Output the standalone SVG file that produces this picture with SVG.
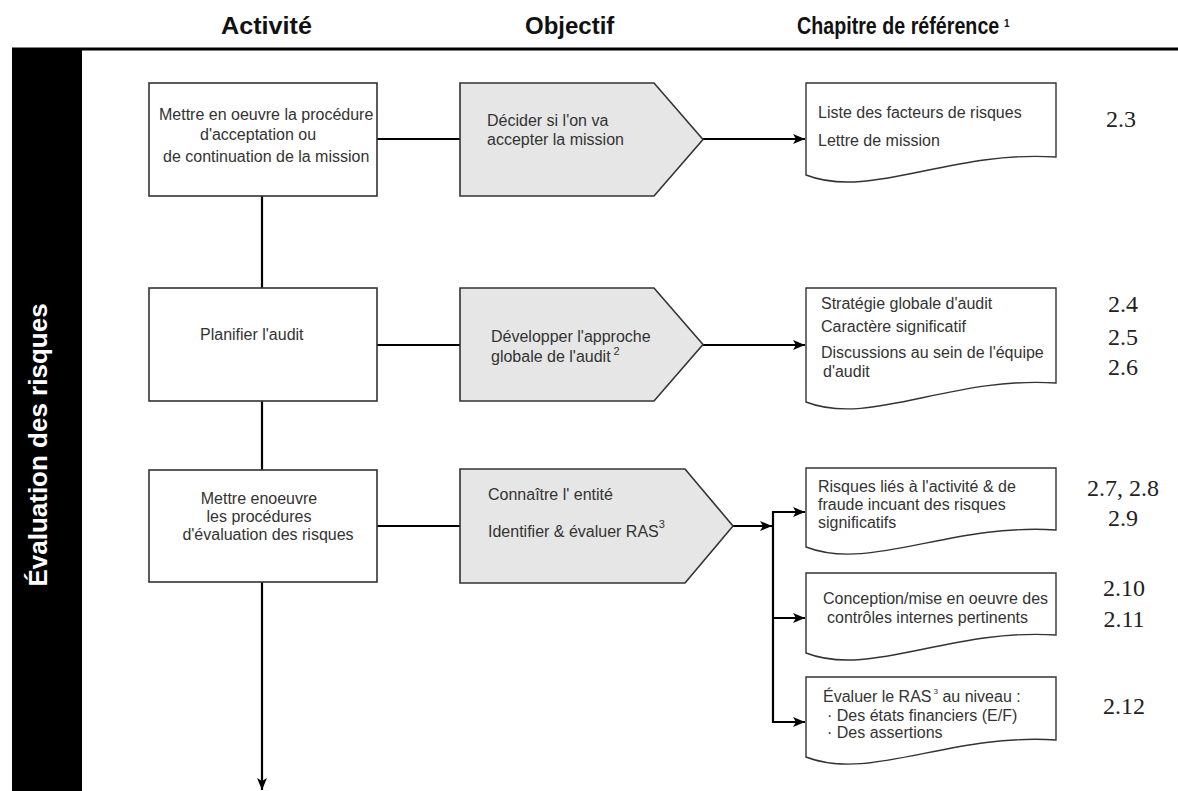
<svg xmlns="http://www.w3.org/2000/svg" width="1178" height="791" viewBox="0 0 1178 791">
<defs>
<style>
.hdr{font-family:"Liberation Sans",Arial,sans-serif;font-weight:bold;font-size:24px;fill:#111}
.t{font-family:"Liberation Sans",Arial,sans-serif;font-size:16px;fill:#333}
.n{font-family:"Liberation Serif","Times New Roman",serif;font-size:24px;fill:#222;text-anchor:middle}
.box{fill:#fff;stroke:#333;stroke-width:1.6}
.pent{fill:#e6e6e6;stroke:#333;stroke-width:1.6}
.doc{fill:#fff;stroke:#333;stroke-width:1.4}
.c{stroke:#000;stroke-width:2.2;fill:none}
.a{stroke:#000;stroke-width:2.2;fill:none;marker-end:url(#ah)}
</style>
<marker id="ah" viewBox="0 0 12 10" refX="12" refY="5" markerWidth="12" markerHeight="10" markerUnits="userSpaceOnUse" orient="auto">
<path d="M0,0 L12,5 L0,10 L3,5 Z" fill="#000"/>
</marker>
</defs>
<rect width="1178" height="791" fill="#fff"/>

<g id="header">
<text class="hdr" transform="translate(221,34) scale(1.05,1)" x="0" y="0">Activité</text>
<text class="hdr" transform="translate(525,34)" x="0" y="0">Objectif</text>
<text class="hdr" transform="translate(797,34) scale(0.82,1)" x="0" y="0">Chapitre de référence</text>
<text x="1004" y="27" font-family="'Liberation Sans',Arial,sans-serif" font-weight="bold" font-size="10" fill="#111">1</text>
<rect x="12" y="47.5" width="1166" height="3" fill="#000"/>
</g>

<g id="sidebar">
<rect x="12" y="48" width="70" height="743" fill="#000"/>
<text transform="translate(47,445) rotate(-90)" text-anchor="middle" font-family="'Liberation Sans',Arial,sans-serif" font-weight="bold" font-size="26" fill="#fff">Évaluation des risques</text>
</g>

<g id="connectors">
<line class="c" x1="377" y1="139" x2="460" y2="139"/>
<line class="a" x1="703" y1="139" x2="805" y2="139"/>
<line class="c" x1="262" y1="196" x2="262" y2="288"/>
<line class="c" x1="377" y1="345" x2="460" y2="345"/>
<line class="a" x1="703" y1="345" x2="805" y2="345"/>
<line class="c" x1="262" y1="401" x2="262" y2="470"/>
<line class="c" x1="377" y1="526" x2="460" y2="526"/>
<line class="a" x1="733" y1="526" x2="772" y2="526"/>
<line class="c" x1="773" y1="511" x2="773" y2="723"/>
<line class="a" x1="772" y1="512" x2="805" y2="512"/>
<line class="a" x1="772" y1="618" x2="805" y2="618"/>
<line class="a" x1="772" y1="722" x2="805" y2="722"/>
<line class="a" x1="262" y1="582" x2="262" y2="790"/>
</g>

<g id="act1">
<rect class="box" x="149" y="83" width="228" height="113"/>
<text class="t" x="159" y="120">Mettre en oeuvre la procédure</text>
<text class="t" x="200" y="140">d'acceptation ou</text>
<text class="t" x="163" y="162">de continuation de la mission</text>
</g>
<g id="act2">
<rect class="box" x="149" y="288" width="228" height="113"/>
<text class="t" x="200" y="340">Planifier l'audit</text>
</g>
<g id="act3">
<rect class="box" x="149" y="470" width="228" height="112"/>
<text class="t" x="259" y="504" text-anchor="middle">Mettre enoeuvre</text>
<text class="t" x="259" y="522" text-anchor="middle">les procédures</text>
<text class="t" x="268" y="540" text-anchor="middle">d'évaluation des risques</text>
</g>

<g id="obj1">
<path class="pent" d="M460,83 H654 L703,139.5 L654,196 H460 Z"/>
<text class="t" x="487" y="126">Décider si l'on va</text>
<text class="t" x="487" y="145">accepter la mission</text>
</g>
<g id="obj2">
<path class="pent" d="M460,288 H654 L703,344.5 L654,401 H460 Z"/>
<text class="t" x="491" y="342">Développer l'approche</text>
<text class="t" x="491" y="362">globale de l'audit<tspan font-size="11" dx="3" dy="-7">2</tspan></text>
</g>
<g id="obj3">
<path class="pent" d="M460,469 H685 L733,526 L685,583 H460 Z"/>
<text class="t" x="488" y="500">Connaître l' entité</text>
<text class="t" x="488" y="537">Identifier &amp; évaluer RAS<tspan font-size="11" dy="-9">3</tspan></text>
</g>

<g id="doc1">
<path class="doc" d="M806,83 H1056 V157 C950,150 870,200 806,175 Z"/>
<text class="t" x="818" y="118">Liste des facteurs de risques</text>
<text class="t" x="818" y="146">Lettre de mission</text>
<text class="n" x="1121" y="127">2.3</text>
</g>
<g id="doc2">
<path class="doc" d="M806,288 H1056 V383 C950,376 870,427 806,402 Z"/>
<text class="t" x="821" y="309">Stratégie globale d'audit</text>
<text class="t" x="821" y="332">Caractère significatif</text>
<text class="t" x="821" y="358">Discussions au sein de l'équipe</text>
<text class="t" x="823" y="377">d'audit</text>
<text class="n" x="1123" y="312">2.4</text>
<text class="n" x="1123" y="345">2.5</text>
<text class="n" x="1123" y="375">2.6</text>
</g>
<g id="doc3">
<path class="doc" d="M806,468 H1056 V530 C950,523 870,572 806,547 Z"/>
<text class="t" x="818" y="492">Risques liés à l'activité &amp; de</text>
<text class="t" x="818" y="510">fraude incuant des risques</text>
<text class="t" x="818" y="528">significatifs</text>
<text class="n" x="1123" y="496">2.7, 2.8</text>
<text class="n" x="1123" y="526">2.9</text>
</g>
<g id="doc4">
<path class="doc" d="M806,573 H1056 V635 C950,628 870,678 806,653 Z"/>
<text class="t" x="823" y="604">Conception/mise en oeuvre des</text>
<text class="t" x="827" y="623">contrôles internes pertinents</text>
<text class="n" x="1124" y="596">2.10</text>
<text class="n" x="1124" y="627">2.11</text>
</g>
<g id="doc5">
<path class="doc" d="M806,677 H1056 V740 C950,733 870,782 806,757 Z"/>
<text class="t" x="823" y="702">Évaluer le RAS<tspan font-size="8" dx="2" dy="-8">3</tspan><tspan dy="8"> au niveau :</tspan></text>
<text class="t" x="827" y="721">· Des états financiers (E/F)</text>
<text class="t" x="827" y="738">· Des assertions</text>
<text class="n" x="1124" y="714">2.12</text>
</g>
</svg>
